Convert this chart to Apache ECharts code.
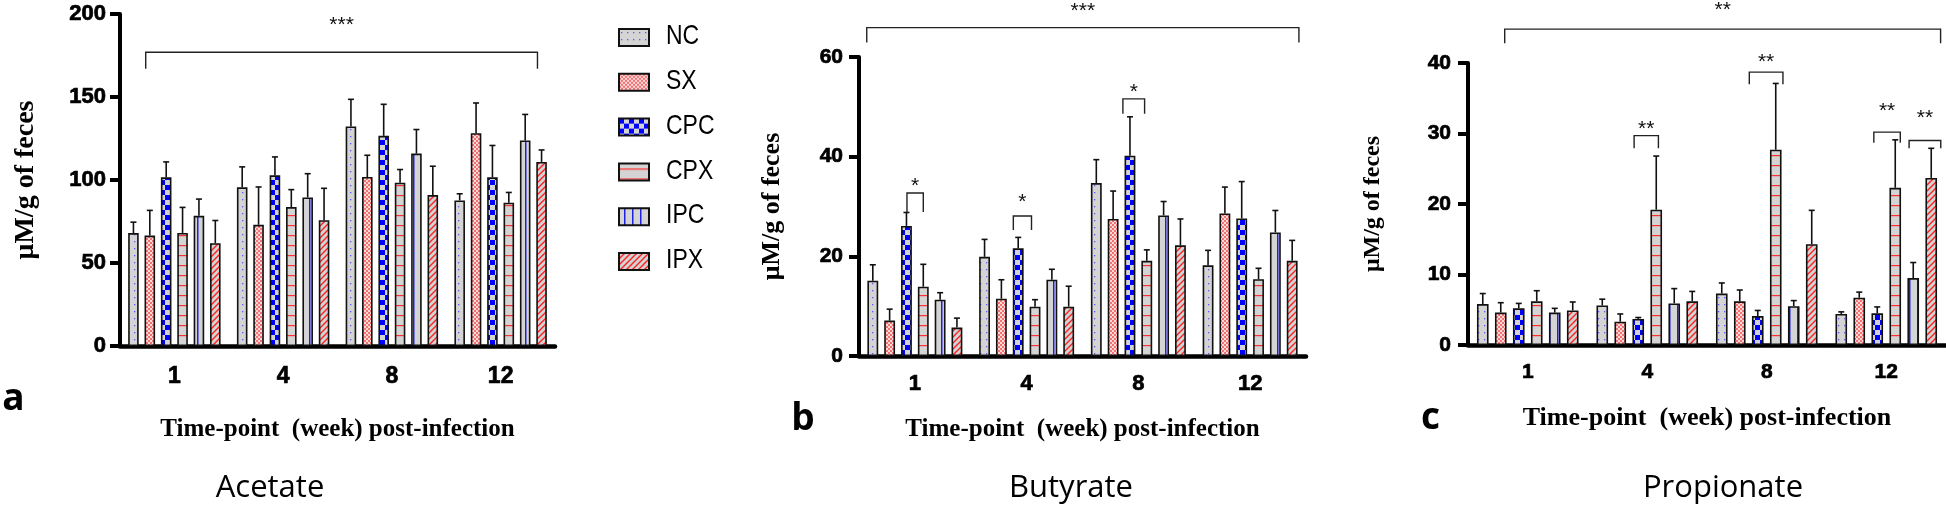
<!DOCTYPE html>
<html><head><meta charset="utf-8">
<script src="https://cdn.jsdelivr.net/npm/echarts@6/dist/echarts.min.js"></script>
<style>html,body{margin:0;padding:0;background:#fff}#c{width:1946px;height:508px}</style>
</head><body><div id="c"></div>
<script>
// ---------- data ----------
const weeks = ['1', '4', '8', '12'];
const groups = ['NC', 'SX', 'CPC', 'CPX', 'IPC', 'IPX'];

// rows follow `groups`, columns follow `weeks`
const acetateMean = [
  [68.0, 95.6, 132.3, 87.7],
  [66.5, 73.0, 101.8, 128.2],
  [101.6, 102.8, 126.6, 101.6],
  [68.1, 83.7, 98.4, 86.3],
  [78.4, 89.5, 115.9, 123.8],
  [61.9, 75.8, 90.9, 110.9]
];
const acetateSD = [
  [6.6, 12.3, 16.3, 4.0],
  [15.2, 22.8, 13.1, 18.2],
  [9.3, 11.1, 19.0, 19.2],
  [15.4, 10.5, 7.9, 6.2],
  [10.1, 14.3, 14.5, 15.7],
  [13.7, 19.2, 17.4, 7.2]
];
const butyrateMean = [
  [15.1, 19.9, 34.7, 18.2],
  [7.1, 11.5, 27.5, 28.6],
  [26.1, 21.6, 40.2, 27.6],
  [13.9, 9.9, 19.1, 15.4],
  [11.3, 15.3, 28.2, 24.8],
  [5.7, 9.9, 22.2, 19.1]
];
const butyrateSD = [
  [3.2, 3.5, 4.7, 3.0],
  [2.3, 3.8, 5.6, 5.3],
  [2.7, 2.2, 7.8, 7.4],
  [4.5, 1.4, 2.2, 2.2],
  [1.4, 2.1, 2.8, 4.4],
  [1.9, 4.1, 5.3, 4.1]
];
const propionateMean = [
  [5.8, 5.6, 7.3, 4.4],
  [4.6, 3.3, 6.2, 6.7],
  [5.2, 3.7, 4.1, 4.5],
  [6.2, 19.2, 27.7, 22.3],
  [4.6, 5.9, 5.5, 9.5],
  [4.9, 6.2, 14.3, 23.7]
];
const propionateSD = [
  [1.5, 0.9, 1.5, 0.3],
  [1.4, 1.1, 1.6, 0.8],
  [0.7, 0.2, 0.8, 0.9],
  [1.5, 7.6, 9.4, 6.8],
  [0.6, 2.1, 0.8, 2.2],
  [1.2, 1.4, 4.8, 4.2]
];

// y-axis ranges / tick steps
const acetateAxis = [0, 200, 50];
const butyrateAxis = [0, 60, 20];
const propionateAxis = [0, 40, 10];

// significance brackets: [week index, bar position, week index, bar position, line value, foot value, label, label value]
const acetateBrackets = [
  [0, 0.75, 3, 4.75, 177, 167, '***', 195.8]
];
const butyrateBrackets = [
  [0, -0.36, 3, 5.4, 65.9, 62.9, '***', 69.9],
  [0, 2.03, 0, 3.0, 32.7, 28.9, '*', 34.9],
  [1, 1.71, 1, 2.79, 28.1, 25.3, '*', 31.7],
  [2, 1.58, 2, 2.87, 51.6, 48.6, '*', 53.8]
];
const propionateBrackets = [
  [0, 1.22, 3, 5.52, 44.8, 42.8, '**', 48.1],
  [1, 1.77, 1, 3.12, 29.7, 27.9, '**', 31.2],
  [2, 1.53, 2, 3.40, 38.7, 37.0, '**', 40.7],
  [3, 1.81, 3, 3.28, 30.2, 28.7, '**', 33.7],
  [3, 3.77, 3, 5.53, 29.0, 27.9, '**', 32.7]
];

const xTitle = 'Time-point  (week) post-infection';
const yTitle = 'μM/g of feces';
const panelLetters = ['a', 'b', 'c'];
const compoundNames = ['Acetate', 'Butyrate', 'Propionate'];

// ---------- patterns ----------
const GRAY = '#d4d4d4';
function tile(w, h, draw) {
  const c = document.createElement('canvas');
  c.width = w; c.height = h;
  const g = c.getContext('2d');
  g.fillStyle = GRAY; g.fillRect(0, 0, w, h);
  draw(g, w, h);
  return { image: c, repeat: 'repeat' };
}
const patterns = [
  tile(6, 7, g => { g.fillStyle = '#5b5bff'; g.fillRect(2, 3, 1.3, 1.3); }),
  tile(4, 4, g => { g.fillStyle = '#fbd8d8'; g.fillRect(0, 0, 4, 4); g.fillStyle = '#f07272'; g.fillRect(0, 0, 2, 2); g.fillRect(2, 2, 2, 2); }),
  tile(10, 10, g => { g.fillStyle = '#0000ff'; g.fillRect(0, 0, 5, 5); g.fillRect(5, 5, 5, 5); }),
  tile(10, 10, g => { g.fillStyle = '#ff3030'; g.fillRect(0, 5, 10, 1.2); }),
  tile(8, 8, g => { g.fillStyle = '#2020e0'; g.fillRect(5, 0, 1.5, 8); }),
  tile(6, 6, g => { g.strokeStyle = '#ff2020'; g.lineWidth = 1.4; g.beginPath(); g.moveTo(-1, 7); g.lineTo(7, -1); g.moveTo(-1, 1); g.lineTo(1, -1); g.moveTo(5, 7); g.lineTo(7, 5); g.stroke(); })
];

// ---------- layout ----------
const N = groups.length;
const CAT_GAP = 0.15, BAR_GAP = 0.55;
const SANS = '"Liberation Sans", Arial, sans-serif';
const SERIF = '"Liberation Serif", "Times New Roman", serif';
const panels = [
  { mean: acetateMean, sd: acetateSD, ax: acetateAxis, br: acetateBrackets,
    grid: { left: 120, top: 14, width: 435, height: 332 },
    yFs: 22, yMargin: 14, xFs: 23, xMargin: 19, xNameFs: 25, xGap: 71, yNameFs: 28, yGap: 80 },
  { mean: butyrateMean, sd: butyrateSD, ax: butyrateAxis, br: butyrateBrackets,
    grid: { left: 859, top: 57, width: 447, height: 299 },
    yFs: 21, yMargin: 16, xFs: 22, xMargin: 17, xNameFs: 25, xGap: 61, yNameFs: 26, yGap: 74 },
  { mean: propionateMean, sd: propionateSD, ax: propionateAxis, br: propionateBrackets,
    grid: { left: 1468, top: 63, width: 478, height: 282 },
    yFs: 21, yMargin: 17, xFs: 21, xMargin: 17, xNameFs: 26, xGap: 60, yNameFs: 24, yGap: 83 }
];

function barStep(api) {
  const band = api.size([1, 0])[0];
  const w = band * (1 - CAT_GAP) / (N + (N - 1) * BAR_GAP);
  return w * (1 + BAR_GAP);
}
function errRender(params, api) {
  const cat = api.value(0), bi = api.value(1);
  const x = api.coord([cat, 0])[0] + (bi - (N - 1) / 2) * barStep(api);
  const y1 = api.coord([cat, api.value(2)])[1];
  const y2 = api.coord([cat, api.value(3)])[1];
  const st = { stroke: '#111', lineWidth: 1.6 };
  return { type: 'group', children: [
    { type: 'line', shape: { x1: x, y1: y1, x2: x, y2: y2 }, style: st },
    { type: 'line', shape: { x1: x - 3, y1: y2, x2: x + 3, y2: y2 }, style: st }
  ] };
}
function bracketRender(brs) {
  return function (params, api) {
    const b = brs[params.dataIndex];
    const step = barStep(api);
    const xa = api.coord([b[0], 0])[0] + (b[1] - (N - 1) / 2) * step;
    const xb = api.coord([b[2], 0])[0] + (b[3] - (N - 1) / 2) * step;
    const yl = api.coord([b[0], b[4]])[1];
    const yd = api.coord([b[0], b[5]])[1];
    const yt = api.coord([b[0], b[7]])[1];
    return { type: 'group', children: [
      { type: 'polyline', shape: { points: [[xa, yd], [xa, yl], [xb, yl], [xb, yd]] },
        style: { stroke: '#222', lineWidth: 1.4, fill: null } },
      { type: 'text', x: (xa + xb) / 2, y: yt + 4,
        style: { text: b[6], align: 'center', verticalAlign: 'middle',
          fontSize: 21, fontFamily: SANS, fill: '#111' } }
    ] };
  };
}

const boldLabel = { color: '#000', fontWeight: 'bold', fontFamily: SANS,
  textBorderColor: '#000', textBorderWidth: 0.7 };

const grids = [], xAxes = [], yAxes = [], series = [];
panels.forEach((p, k) => {
  grids.push(Object.assign({ containLabel: false, outerBoundsMode: 'none' }, p.grid));
  xAxes.push({
    type: 'category', gridIndex: k, data: weeks,
    axisLine: { lineStyle: { color: '#000', width: 4.5 } },
    axisTick: { alignWithLabel: true, length: 13, lineStyle: { color: '#000', width: 4 } },
    axisLabel: Object.assign({ fontSize: p.xFs, margin: p.xMargin }, boldLabel),
    name: xTitle, nameLocation: 'middle', nameGap: p.xGap,
    nameTextStyle: { color: '#000', fontWeight: 'bold', fontSize: p.xNameFs, fontFamily: SERIF }
  });
  yAxes.push({
    type: 'value', gridIndex: k, min: p.ax[0], max: p.ax[1], interval: p.ax[2],
    splitLine: { show: false },
    axisLine: { show: true, lineStyle: { color: '#000', width: 4 } },
    axisTick: { show: true, length: 10, lineStyle: { color: '#000', width: 4 } },
    axisLabel: Object.assign({ fontSize: p.yFs, margin: p.yMargin }, boldLabel),
    name: yTitle, nameLocation: 'middle', nameGap: p.yGap, nameRotate: 90,
    nameTextStyle: { color: '#000', fontWeight: 'bold', fontSize: p.yNameFs, fontFamily: SERIF }
  });
  groups.forEach((g, i) => {
    series.push({
      type: 'bar', name: g, xAxisIndex: k, yAxisIndex: k, data: p.mean[i],
      barGap: (BAR_GAP * 100) + '%', barCategoryGap: (CAT_GAP * 100) + '%',
      itemStyle: { color: patterns[i], borderColor: '#111', borderWidth: 1.6 },
      emphasis: { disabled: true }, z: 2
    });
  });
  const errData = [];
  groups.forEach((g, i) => weeks.forEach((w, j) => errData.push([j, i, p.mean[i][j], p.mean[i][j] + p.sd[i][j]])));
  series.push({ type: 'custom', xAxisIndex: k, yAxisIndex: k, renderItem: errRender,
    data: errData, encode: { x: 0, y: 3 }, clip: false, z: 3, silent: true });
  series.push({ type: 'custom', xAxisIndex: k, yAxisIndex: k, renderItem: bracketRender(p.br),
    data: p.br.map(b => [b[0], b[4]]), encode: { x: 0, y: 1 }, clip: false, z: 3, silent: true });
});

// legend: one library legend per group (swatches), names drawn narrow (Arial-Narrow look)
const LEG_TOP = 28, LEG_STEP = 44.8, LEG_H = 17;
const legends = groups.map((g, i) => ({
  data: [g], orient: 'vertical', left: 618, top: LEG_TOP + i * LEG_STEP,
  itemWidth: 30, itemHeight: LEG_H, icon: 'rect', selectedMode: false,
  formatter: () => '', padding: 0, textStyle: { fontSize: 12 }
}));
const legendTexts = groups.map((g, i) => ({
  type: 'text', x: 666, y: LEG_TOP + LEG_H / 2 + i * LEG_STEP, scaleX: 0.82,
  style: { text: g, align: 'left', verticalAlign: 'middle', fontSize: 28, fontFamily: SANS, fill: '#000' }
}));

const letterPos = [[13.5, 399], [803, 419], [1430.5, 418]];
const namePos = [[270, 488], [1071, 488], [1723, 488]];
const graphics = legendTexts.concat(
  panelLetters.map((t, i) => ({ type: 'text', x: letterPos[i][0], y: letterPos[i][1],
    style: { text: t, align: 'center', verticalAlign: 'middle', fontSize: 37, fontWeight: 'bold', fontFamily: '"Open Sans", sans-serif', fill: '#000' } })),
  compoundNames.map((t, i) => ({ type: 'text', x: namePos[i][0], y: namePos[i][1],
    style: { text: t, align: 'center', verticalAlign: 'middle', fontSize: 31, fontFamily: '"Open Sans", sans-serif', fill: '#000' } }))
);

const chart = echarts.init(document.getElementById('c'), null, { renderer: 'canvas' });
chart.setOption({
  animation: false,
  backgroundColor: '#fff',
  grid: grids, xAxis: xAxes, yAxis: yAxes, series: series,
  legend: legends,
  graphic: graphics
});
</script></body></html>
